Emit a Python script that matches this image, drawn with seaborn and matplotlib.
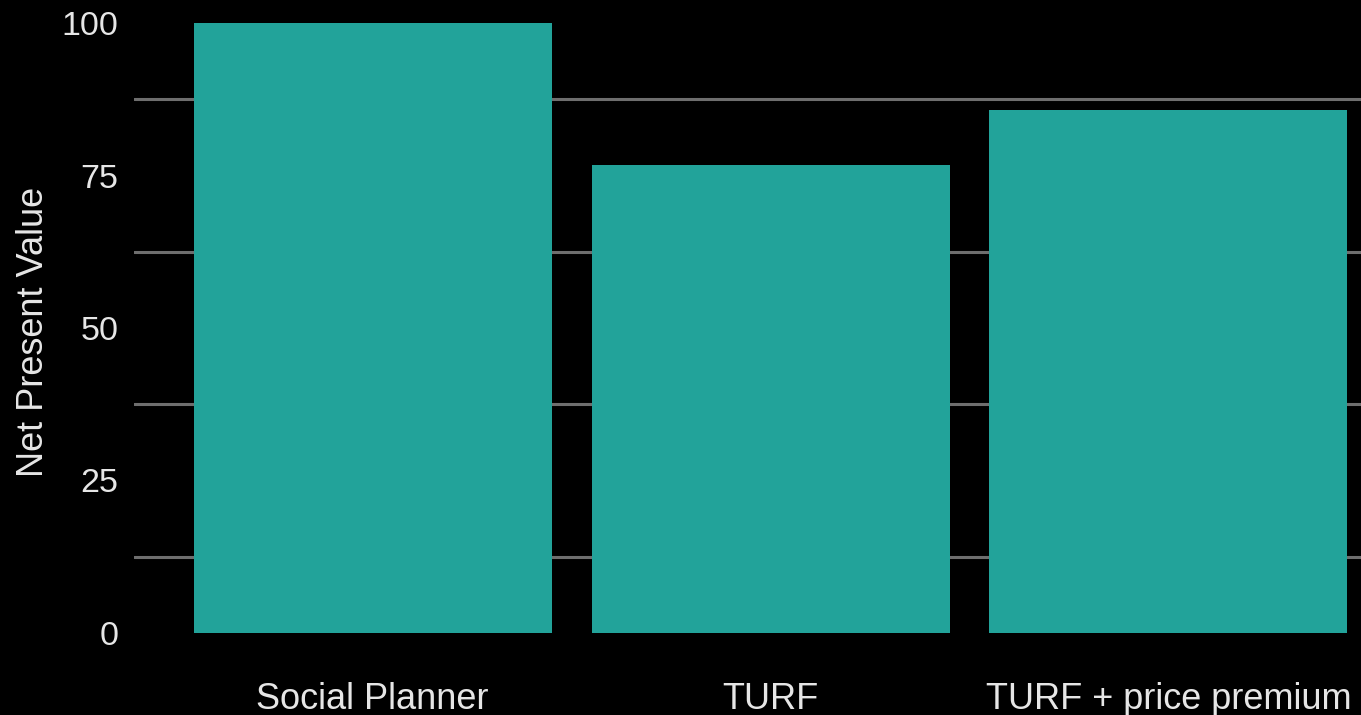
import matplotlib
matplotlib.use("Agg")
import matplotlib.pyplot as plt
import seaborn as sns
import pandas as pd
from matplotlib.ticker import MultipleLocator

categories = ["Social Planner", "TURF", "TURF + price premium"]
npv_values = [100, 76.7, 85.7]
y_ticks = [0, 25, 50, 75, 100]

df = pd.DataFrame({"scenario": categories, "npv": npv_values})

sns.set_theme(style="dark")
plt.rcParams["font.family"] = ["Liberation Sans", "DejaVu Sans"]

fig = plt.figure(figsize=(13.61, 7.15), dpi=100, facecolor="black")
ax = fig.add_axes([134 / 1361, (715 - 663.5) / 715, 1 - 134 / 1361, 663.5 / 715])
ax.set_facecolor("black")

sns.barplot(data=df, x="scenario", y="npv", color="#22A39A", saturation=1,
            width=0.9, linewidth=0, ax=ax, zorder=3)

ax.set_xlim(-0.6, 2.484)
ax.set_ylim(-5, 100 + 23 / 6.1)
ax.set_yticks(y_ticks)
ax.yaxis.set_minor_locator(MultipleLocator(12.5))
ax.grid(False)
ax.grid(which="minor", axis="y", color="#6e6e6e", linewidth=2.2, zorder=1)
ax.set_axisbelow(True)

for s in ax.spines.values():
    s.set_visible(False)

ax.tick_params(axis="both", which="major", colors="#6e6e6e", length=5, width=1.2,
               labelcolor="#E6E6E6", pad=6)
ax.tick_params(axis="y", which="major", labelsize=24.5)
ax.tick_params(axis="x", which="major", labelsize=26, pad=8)
ax.tick_params(which="minor", length=0)

ax.set_xlabel("")
ax.set_ylabel("Net Present Value", fontsize=26, color="#E6E6E6", labelpad=8)

fig.savefig("out.png", dpi=100, facecolor="black")
